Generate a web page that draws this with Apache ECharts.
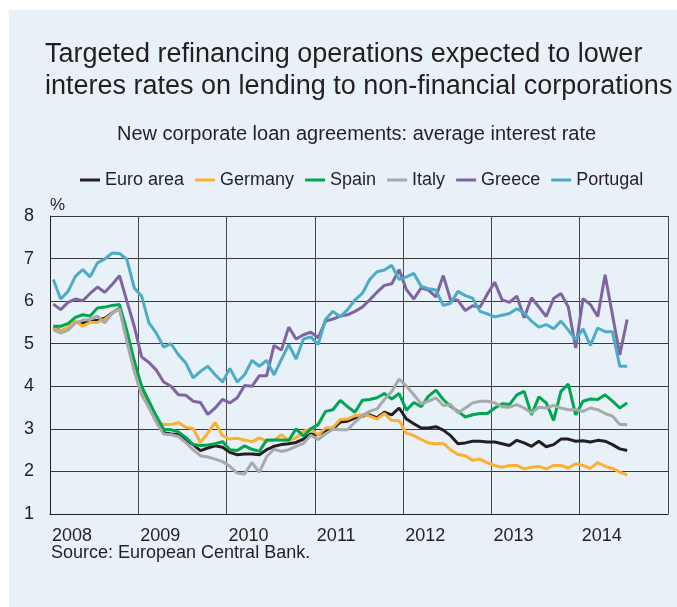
<!DOCTYPE html>
<html>
<head>
<meta charset="utf-8">
<title>Targeted refinancing operations</title>
<script src="https://cdn.jsdelivr.net/npm/echarts/dist/echarts.min.js"></script>
<style>
  html, body { margin: 0; padding: 0; background: #fff; }
  #chart { width: 677px; height: 607px; }
</style>
</head>
<body>
<div id="chart"></div>
<script>
// monthly data, Jan 2008 .. Jul 2014
var seriesNames = ['Euro area', 'Germany', 'Spain', 'Italy', 'Greece', 'Portugal'];
var seriesColors = ['#231f20', '#fbb034', '#00a650', '#a7a9ac', '#8064a2', '#4bacc6'];
var yearLabels = ['2008', '2009', '2010', '2011', '2012', '2013', '2014'];

var euroArea = [5.38, 5.30, 5.36, 5.50, 5.50, 5.52, 5.55, 5.60, 5.72, 5.83,
  5.15, 4.45, 3.90, 3.55, 3.25,
  2.91, 2.88, 2.86, 2.74, 2.63, 2.49, 2.55,
  2.60, 2.57, 2.45, 2.39, 2.41, 2.41, 2.39, 2.51, 2.59, 2.63, 2.65,
  2.68, 2.76, 2.88, 2.86, 2.96, 3.00, 3.16, 3.18,
  3.26, 3.30, 3.33, 3.26, 3.39, 3.33, 3.49, 3.23, 3.12, 3.02, 3.02, 3.05, 2.97, 2.84, 2.65, 2.67, 2.71, 2.71, 2.69, 2.69, 2.65, 2.61,
  2.73, 2.67, 2.59, 2.71, 2.58, 2.63, 2.76, 2.76, 2.71, 2.72, 2.69, 2.73, 2.71, 2.63, 2.53, 2.49];

var germany = [5.37, 5.29, 5.39, 5.53, 5.41, 5.50, 5.50, 5.57, 5.71, 5.82,
  5.10, 4.40, 3.85, 3.50, 3.18,
  3.10, 3.10, 3.15, 3.04, 3.01, 2.68, 2.90,
  3.15, 2.84, 2.76, 2.78, 2.74, 2.70, 2.79, 2.71, 2.73, 2.86, 2.73, 2.79, 2.94, 3.00, 2.86, 3.02, 3.03, 3.22, 3.23,
  3.31, 3.33, 3.30, 3.23, 3.36, 3.20, 3.19, 2.90, 2.84, 2.75, 2.67, 2.65, 2.66, 2.51, 2.40, 2.37, 2.26, 2.29, 2.20, 2.14, 2.10, 2.14,
  2.14, 2.06, 2.10, 2.12, 2.06, 2.14, 2.14, 2.08, 2.18, 2.14, 2.07, 2.21, 2.12, 2.07, 1.98, 1.92];

var spain = [5.41, 5.41, 5.47, 5.62, 5.68, 5.65, 5.84, 5.86, 5.90, 5.92,
  5.30, 4.60, 4.00, 3.65, 3.30,
  2.99, 2.98, 2.93, 2.80, 2.63, 2.61, 2.62,
  2.65, 2.70, 2.51, 2.49, 2.60, 2.52, 2.47, 2.74, 2.74, 2.74, 2.73,
  3.00, 2.83, 3.00, 3.10, 3.41, 3.45, 3.67, 3.52,
  3.39, 3.67, 3.69, 3.73, 3.83, 3.70, 3.83, 3.44, 3.62, 3.52, 3.77, 3.91, 3.69, 3.53, 3.41, 3.28, 3.33, 3.36, 3.36, 3.49, 3.59, 3.57,
  3.80, 3.88, 3.33, 3.75, 3.61, 3.20, 3.88, 4.05, 3.33, 3.65, 3.70, 3.69, 3.80, 3.65, 3.49, 3.61];

var italy = [5.33, 5.25, 5.32, 5.49, 5.55, 5.57, 5.65, 5.49, 5.72, 5.82,
  5.05, 4.35, 3.80, 3.50, 3.15,
  2.88, 2.86, 2.82, 2.68, 2.51, 2.37, 2.34,
  2.29, 2.23, 2.12, 1.96, 1.94, 2.21, 1.98, 2.35, 2.52, 2.47, 2.51,
  2.59, 2.66, 2.85, 2.75, 2.88, 2.99, 2.98, 2.98,
  3.16, 3.31, 3.41, 3.47, 3.69, 3.88, 4.17, 4.00, 3.80, 3.59, 3.65, 3.73, 3.55, 3.57, 3.37, 3.49, 3.61, 3.65, 3.65, 3.61, 3.52, 3.51,
  3.57, 3.49, 3.37, 3.51, 3.49, 3.55, 3.49, 3.45, 3.45, 3.41, 3.49, 3.45, 3.36, 3.30, 3.10, 3.10];

var greece = [5.93, 5.80, 5.97, 6.05, 6.01, 6.18, 6.33, 6.21, 6.39, 6.60, 6.00, 5.41,
  4.69, 4.56, 4.38, 4.10, 4.00, 3.80, 3.79, 3.65, 3.62, 3.34,
  3.49, 3.69, 3.61, 3.73, 4.02, 4.00, 4.25, 4.25, 4.96, 4.85, 5.39, 5.11, 5.21, 5.27, 5.14, 5.53, 5.58, 5.65, 5.68,
  5.76, 5.86, 6.03, 6.21, 6.37, 6.41, 6.74, 6.27, 6.05, 6.31, 6.26, 6.10, 6.60, 6.03, 6.02, 5.78, 5.89, 5.86, 6.17, 6.44, 6.03, 5.97,
  6.12, 5.61, 6.08, 5.86, 5.64, 6.06, 6.18, 5.86, 4.90, 6.06, 5.92, 5.64, 6.62, 5.68, 4.74, 5.57];

var portugal = [6.51, 6.05, 6.23, 6.58, 6.74, 6.57, 6.90, 6.99, 7.13, 7.12, 6.98, 6.31,
  6.12, 5.49, 5.25, 4.92, 5.00, 4.74, 4.55, 4.20, 4.35, 4.47,
  4.27, 4.10, 4.42, 4.10, 4.27, 4.61, 4.47, 4.61, 4.27, 4.63, 4.98, 4.64, 5.11, 5.16, 4.98, 5.57, 5.76, 5.63, 5.80,
  6.03, 6.18, 6.51, 6.69, 6.73, 6.84, 6.51, 6.57, 6.65, 6.35, 6.29, 6.26, 5.90, 5.95, 6.23, 6.13, 6.07, 5.76, 5.70, 5.63, 5.67, 5.71,
  5.82, 5.72, 5.53, 5.39, 5.45, 5.35, 5.53, 5.32, 5.10, 5.35, 4.96, 5.37, 5.28, 5.28, 4.47, 4.47];

var allValues = [euroArea, germany, spain, italy, greece, portugal];

var font = '"Liberation Sans", Arial, sans-serif';
var textColor = '#231f20';

// month index -> x position (points sit near mid-month)
function toPoints(values) {
  return values.map(function (v, i) { return [i + 0.45, v]; });
}

var series = seriesNames.map(function (name, k) {
  return {
    name: name,
    type: 'line',
    data: toPoints(allValues[k]),
    showSymbol: false,
    symbol: 'none',
    lineStyle: { width: 3, color: seriesColors[k] },
    itemStyle: { color: seriesColors[k] }
  };
});

var option = {
  animation: false,
  backgroundColor: '#ffffff',
  graphic: [{
    type: 'rect',
    shape: { x: 9, y: 10, width: 668, height: 597 },
    style: { fill: '#e9f1f8' },
    z: -10
  }],
  title: [{
    text: 'Targeted refinancing operations expected to lower\ninteres rates on lending to non-financial corporations',
    left: 45,
    top: 39,
    padding: 0,
    textStyle: { fontFamily: font, fontSize: 27, fontWeight: 'normal', color: textColor, lineHeight: 32 }
  }, {
    text: 'New corporate loan agreements: average interest rate',
    left: 117,
    top: 124,
    padding: 0,
    textStyle: { fontFamily: font, fontSize: 20, fontWeight: 'normal', color: textColor }
  }, {
    text: 'Source: European Central Bank.',
    left: 51,
    top: 544,
    padding: 0,
    textStyle: { fontFamily: font, fontSize: 18, fontWeight: 'normal', color: textColor }
  }],
  legend: {
    data: seriesNames,
    left: 80,
    top: 171,
    padding: 0,
    itemGap: 11,
    itemWidth: 20,
    itemHeight: 3,
    icon: 'rect',
    textStyle: { fontFamily: font, fontSize: 18, color: textColor }
  },
  grid: { left: 50, right: 9, top: 216, bottom: 93 },
  xAxis: {
    type: 'value',
    min: 0,
    max: 84,
    interval: 12,
    axisLine: { show: true, lineStyle: { color: '#231f20', width: 1 } },
    axisTick: { show: false },
    splitLine: { show: true, lineStyle: { color: '#4a4a4a', width: 1 } },
    axisLabel: {
      fontFamily: font,
      fontSize: 18,
      color: textColor,
      align: 'left',
      margin: 13,
      padding: [0, 0, 0, 2],
      formatter: function (v) {
        var idx = Math.round(v / 12);
        return yearLabels[idx] || '';
      }
    }
  },
  yAxis: {
    type: 'value',
    min: 1,
    max: 8,
    interval: 1,
    name: '%',
    nameLocation: 'end',
    nameGap: 2,
    nameTextStyle: { fontFamily: font, fontSize: 17, color: textColor, align: 'left', padding: [0, 0, 0, 0] },
    axisLine: { show: true, lineStyle: { color: '#231f20', width: 1 } },
    axisTick: { show: false },
    splitLine: { show: true, lineStyle: { color: '#3a3a3a', width: 1 } },
    axisLabel: { fontFamily: font, fontSize: 18, color: textColor, margin: 16 }
  },
  series: series
};

var myChart = echarts.init(document.getElementById('chart'));
myChart.setOption(option);
</script>
</body>
</html>
